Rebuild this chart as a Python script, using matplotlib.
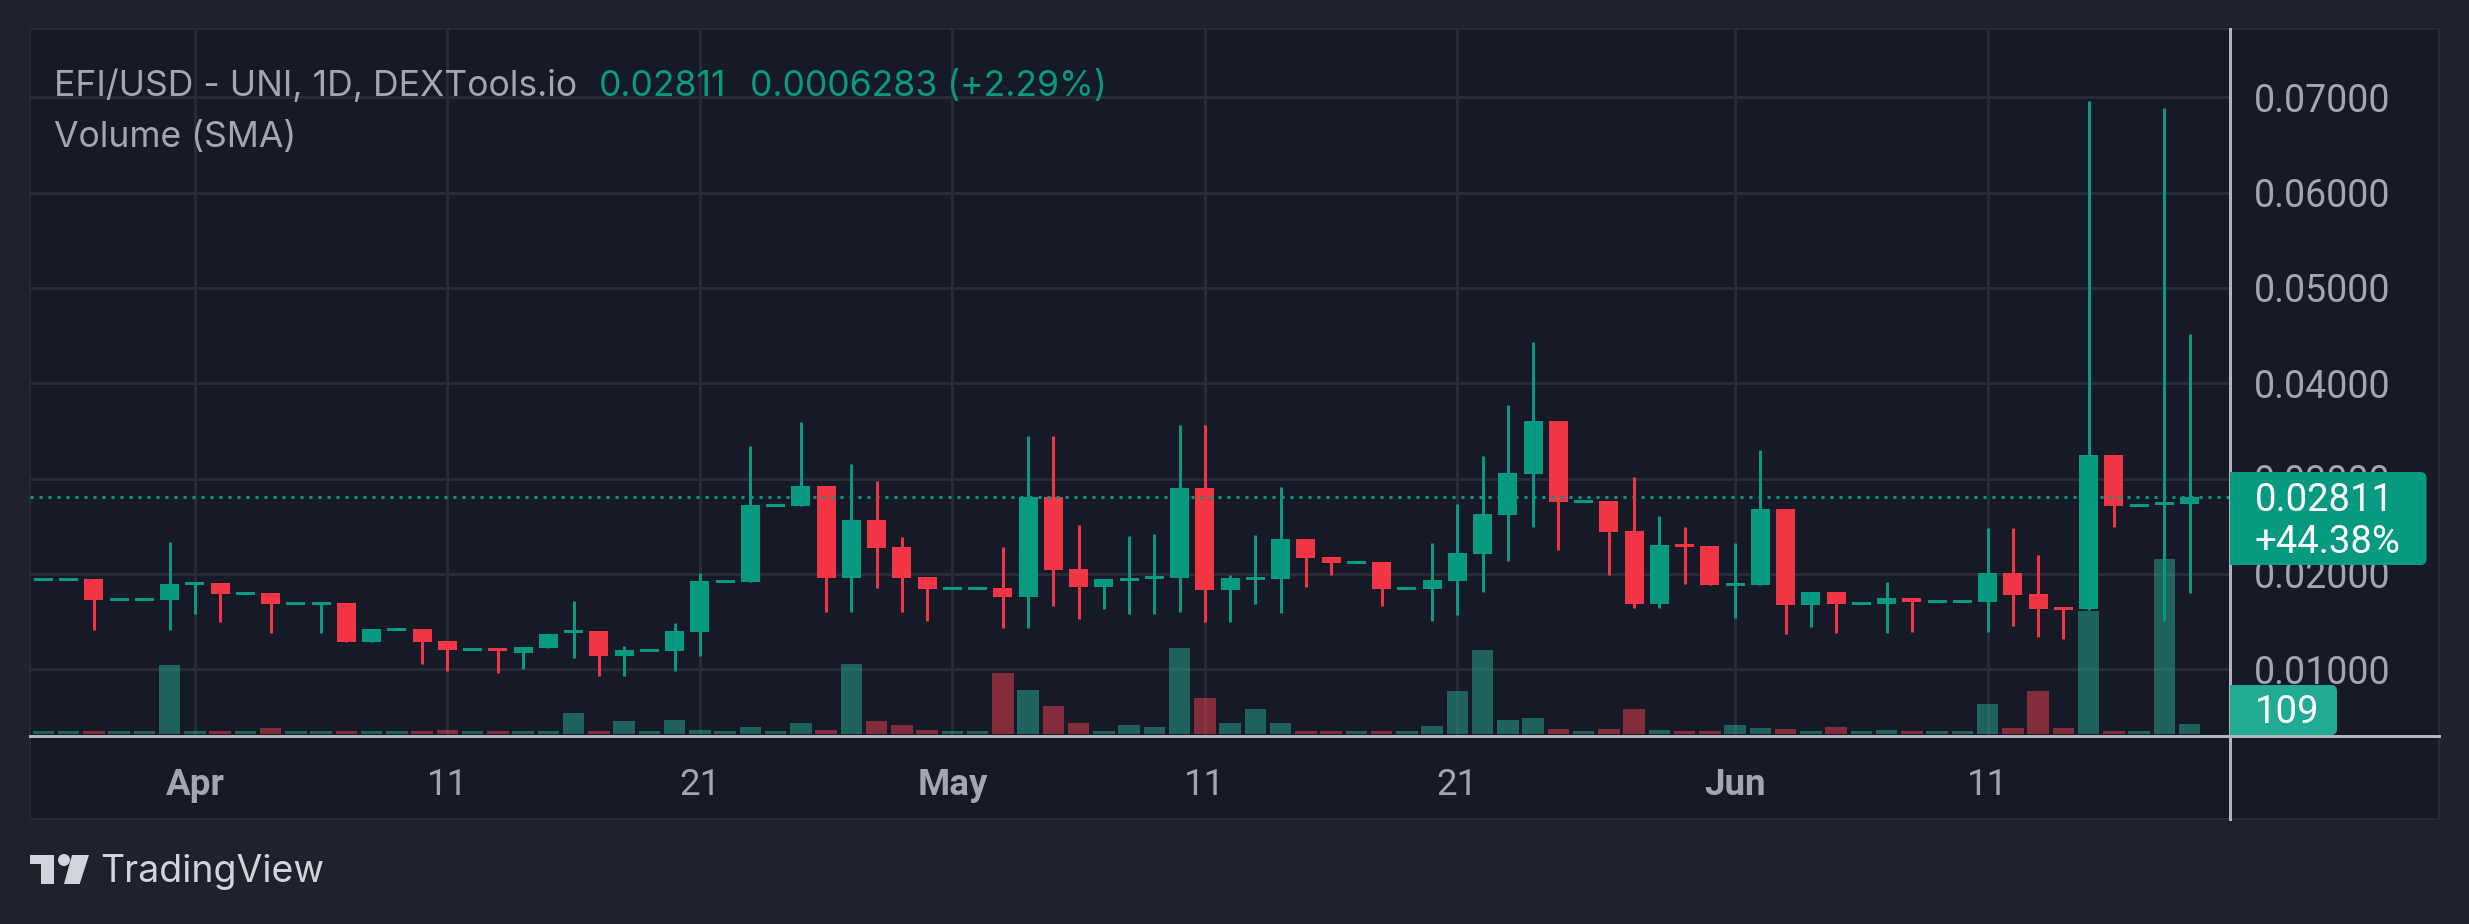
import matplotlib
matplotlib.use("Agg")
import matplotlib.pyplot as plt
from matplotlib.patches import Rectangle, FancyBboxPatch, Polygon, Circle
from matplotlib.lines import Line2D
from matplotlib.transforms import IdentityTransform

W, H, DPI = 2469, 924, 100
plt.rcParams['font.family'] = ['Inter', 'DejaVu Sans']
NUMFONT = ['Roboto', 'DejaVu Sans']

# ---------- data (prices in units of 1e-5 USD) ----------
opens = [1944,1944,1948,1734,1734,1727,1902,1906,1797,1801,1692,1692,1696,1287,1420,1423,1297,1210,1225,1171,
         1224,1381,1402,1140,1199,1192,1392,1923,1916,2720,2713,2923,1958,2566,2283,1969,1850,1850,1853,1759,
         2808,2052,1864,1927,1948,1958,2902,1832,1937,1948,2367,2178,2122,2126,1850,1843,1927,2210,2619,3049,
         3605,2762,2766,2451,1685,2315,2294,1874,1885,2682,1675,1811,1692,1685,1748,1713,1713,1706,2010,1790,
         1654,1628,3248,2720,2741,2734]
closes = [1944,1944,1727,1734,1734,1895,1902,1790,1797,1685,1692,1692,1287,1423,1420,1287,1203,1210,1195,1234,
          1371,1413,1140,1203,1199,1402,1927,1923,2724,2720,2923,1958,2566,2273,1958,1843,1850,1850,1759,2808,
          2042,1864,1948,1958,1979,2902,1832,1958,1969,2367,2168,2115,2122,1843,1850,1937,2220,2629,3059,3605,
          2755,2762,2441,1685,2304,2283,1885,1906,2682,1675,1811,1685,1692,1748,1706,1713,1713,2010,1780,1633,
          1622,3248,2713,2720,2741,2811]
highs = [1944,1944,1948,1734,1734,2336,1917,1906,1797,1801,1692,1692,1696,1423,1420,1423,1297,1210,1225,1234,
         1371,1717,1402,1245,1199,1486,2010,1923,3343,2720,3594,2923,3154,2976,2388,1969,1850,1850,2283,3448,
         3448,2514,1948,2399,2420,3563,3563,1990,2409,2913,2367,2178,2122,2126,1850,2325,2734,3238,3773,4430,
         3605,2762,2766,3017,2608,2493,2294,2325,3301,2682,1811,1811,1692,1916,1748,1713,1713,2483,2483,2199,
         1654,6960,3248,2720,6890,4517]
lows = [1944,1944,1413,1734,1734,1413,1580,1496,1797,1381,1692,1381,1287,1287,1420,1056,983,1210,962,1003,
        1224,1119,930,930,1199,983,1140,1923,1916,2720,2713,1601,1601,1853,1601,1507,1850,1850,1434,1434,
        1664,1528,1633,1580,1580,1601,1496,1496,1685,1591,1864,1990,2122,1664,1850,1507,1570,1811,2136,2493,
        2252,2762,1990,1643,1643,1895,1885,1538,1885,1371,1444,1381,1692,1381,1392,1713,1713,1392,1455,1339,
        1318,1622,2493,2720,1507,1801]
volumes = [33,33,33,33,33,751,33,33,33,65,33,33,33,33,33,33,44,33,33,33,
           33,229,33,142,33,152,44,33,76,33,120,44,762,142,98,44,33,33,664,479,
           305,120,33,98,76,937,392,120,272,120,33,33,33,33,33,87,468,915,152,174,
           54,33,54,272,44,33,33,98,65,54,33,76,33,44,33,33,33,327,65,468,
           65,1343,33,33,1906,109]
price_ticks = [1000,2000,3000,4000,5000,6000,7000]
date_tick_pos = [6,16,26,36,46,56,67,77]
date_tick_labels = ['Apr','11','21','May','11','21','Jun','11']
bold_labels = {'Apr','May','Jun'}
last_price = 2811
legend_main = 'EFI/USD - UNI, 1D, DEXTools.io'
legend_close = '0.02811'
legend_change = '0.0006283 (+2.29%)'
legend_vol = 'Volume (SMA)'
tag_price = '0.02811\n+44.38%'
tag_volume = '109'

# ---------- palette ----------
PAGE, PANE, GRID = '#1E222D', '#161926', '#282B37'
UP, DOWN, GREY = '#089981', '#F23645', '#A3A6AF'
VOL_UP, VOL_DOWN = '#26A995', '#F04050'
AXIS = '#B2B5BE'

fig = plt.figure(figsize=(W/DPI, H/DPI), dpi=DPI, facecolor=PAGE)
def rect(l, t, r, b):
    return [l/W, 1-b/H, (r-l)/W, (b-t)/H]

# pane behind everything
fig.add_artist(Rectangle((30/W, 1-819/H), (2439-30)/W, (819-29)/H, transform=fig.transFigure,
                         facecolor=PANE, edgecolor=GRID, lw=1.4, zorder=-5))

pos = rect(30, 29.3, 2230, 736)
xlim = (-0.531, 86.6)
ylim = (300, 7713)
volmax = (-22, 7674)

ag = fig.add_axes(pos, zorder=1, facecolor='none')
av = fig.add_axes(pos, zorder=2, facecolor='none')
ax = fig.add_axes(pos, zorder=3, facecolor='none')
for a in (ag, av, ax):
    a.set_xlim(*xlim)
    for s in a.spines.values():
        s.set_visible(False)
ag.set_ylim(*ylim); ax.set_ylim(*ylim); av.set_ylim(*volmax)

# grid
ag.set_xticks(date_tick_pos); ag.set_yticks(price_ticks)
ag.grid(True, color=GRID, lw=2.16)
ag.tick_params(length=0, labelbottom=False, labelleft=False)
av.set_xticks([]); av.set_yticks([])

# volume
n = len(opens)
xs = list(range(n))
cols = [UP if c >= o else DOWN for o, c in zip(opens, closes)]
vcols = [VOL_UP if c >= o else VOL_DOWN for o, c in zip(opens, closes)]
av.bar(xs, volumes, width=0.85, color=vcols, alpha=0.5, linewidth=0)

# candles
MIN_BODY = 30
ax.vlines(xs, lows, highs, colors=cols, lw=2.16, capstyle='butt')
bottoms, heights = [], []
for o, c in zip(opens, closes):
    lo, hi = min(o, c), max(o, c)
    if hi - lo < MIN_BODY:
        mid = (hi + lo) / 2
        lo, hi = mid - MIN_BODY/2, mid + MIN_BODY/2
    bottoms.append(lo); heights.append(hi - lo)
ax.bar(xs, heights, bottom=bottoms, width=0.75, color=cols, linewidth=0)
ax.axhline(last_price, color=UP, lw=2.16, ls=(0, (1, 2)), dash_capstyle='butt', zorder=1)

# axes ticks
ax.yaxis.tick_right()
ax.set_yticks(price_ticks)
ax.set_yticklabels([f'{v/1e5:.5f}' for v in price_ticks], fontsize=27, color=GREY, family=NUMFONT)
ax.tick_params(axis='y', length=0, pad=17)
ax.set_xticks(date_tick_pos)
ax.set_xticklabels(date_tick_labels, fontsize=26.5, color=GREY, family=NUMFONT)
ax.tick_params(axis='x', length=0, pad=22)
for lab in ax.get_xticklabels():
    if lab.get_text() in bold_labels:
        lab.set_fontweight('bold')

# axis borders
fig.add_artist(Line2D([30/W, 2439/W], [1-736/H]*2, transform=fig.transFigure, color=AXIS, lw=2.16, zorder=6))
fig.add_artist(Line2D([2230/W]*2, [1-29/H, 1-819/H], transform=fig.transFigure, color=AXIS, lw=2.16, zorder=6))

# legend text
def txt(x, y, s, color, size, **kw):
    fig.text(x/W, 1-y/H, s, color=color, fontsize=size, va='baseline', ha='left', zorder=8, **kw)
txt(54, 96, legend_main, GREY, 25.6)
txt(599, 96, legend_close, UP, 25.6)
txt(750, 96, legend_change, UP, 25.6)
txt(54, 147, legend_vol, GREY, 25.6)

# price tags
def tag(l, t, r, b, color):
    rr = 6
    fig.add_artist(FancyBboxPatch((l+rr, H-b+rr), r-l-2*rr, b-t-2*rr, boxstyle=f'round,pad={rr},rounding_size={rr}',
                                  transform=IdentityTransform(), facecolor=color, edgecolor='none', zorder=7))
    fig.add_artist(Rectangle((l, H-b), 2*rr, b-t, transform=IdentityTransform(), facecolor=color, edgecolor='none', zorder=7))

tag(2230, 472, 2426.5, 565, UP)
tag(2230, 685, 2337, 735, '#22AB94')
line1, line2 = tag_price.split('\n')
for label, base in ((line1, 511), (line2, 553), (tag_volume, 723)):
    fig.text(2255/W, 1-base/H, label, color='white', fontsize=27.5, va='baseline', ha='left', zorder=9, family=NUMFONT)

# TradingView logo
LOGO = '#D1D4DC'
def P(pts):
    return Polygon([(x/W, 1-y/H) for x, y in pts], closed=True, transform=fig.transFigure, facecolor=LOGO, edgecolor='none', zorder=8)
fig.add_artist(P([(30,855),(54,855),(54,884),(41.5,884),(41.5,863.5),(30,863.5)]))
fig.add_artist(P([(72,855),(89,855),(79.7,884),(64,884)]))
fig.add_artist(Circle((64, H-860), 6, transform=IdentityTransform(), facecolor=LOGO, edgecolor='none', zorder=8))
txt(100, 882, 'TradingView', LOGO, 27)

fig.savefig('out.png', dpi=DPI, facecolor=PAGE)
